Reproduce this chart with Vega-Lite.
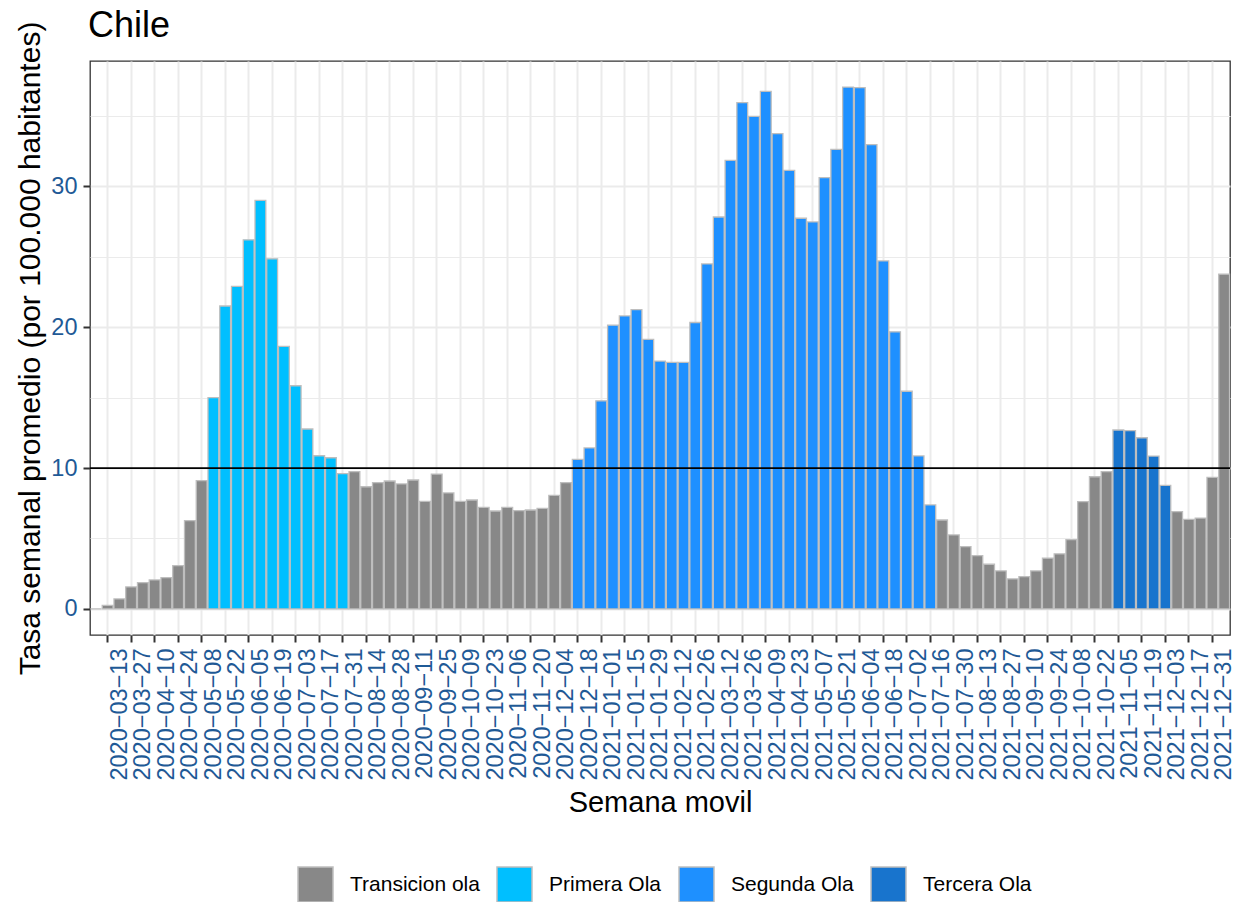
{
  "$schema": "https://vega.github.io/schema/vega-lite/v6.json",
  "width": 1140,
  "height": 574,
  "autosize": {"type": "none"},
  "padding": {"left": 90, "top": 61, "right": 5, "bottom": 267},
  "background": "white",
  "config": {
    "font": "Liberation Sans",
    "view": {"stroke": "#333333", "strokeWidth": 1.3}
  },
  "title": {"text": "Chile", "anchor": "start", "frame": "group", "fontSize": 36, "font": "Liberation Sans", "fontWeight": "normal", "color": "black", "baseline": "bottom", "offset": -60, "dx": -2},
  "layer": [
    {
      "data": {"values": [
        {"semana": "2020-03-06", "tasa": 0, "ola": "Transicion ola"},
        {"semana": "2020-03-13", "tasa": 0.25, "ola": "Transicion ola"},
        {"semana": "2020-03-20", "tasa": 0.71, "ola": "Transicion ola"},
        {"semana": "2020-03-27", "tasa": 1.56, "ola": "Transicion ola"},
        {"semana": "2020-04-03", "tasa": 1.87, "ola": "Transicion ola"},
        {"semana": "2020-04-10", "tasa": 2.06, "ola": "Transicion ola"},
        {"semana": "2020-04-17", "tasa": 2.22, "ola": "Transicion ola"},
        {"semana": "2020-04-24", "tasa": 3.07, "ola": "Transicion ola"},
        {"semana": "2020-05-01", "tasa": 6.26, "ola": "Transicion ola"},
        {"semana": "2020-05-08", "tasa": 9.1, "ola": "Transicion ola"},
        {"semana": "2020-05-15", "tasa": 15.0, "ola": "Primera Ola"},
        {"semana": "2020-05-22", "tasa": 21.5, "ola": "Primera Ola"},
        {"semana": "2020-05-29", "tasa": 22.9, "ola": "Primera Ola"},
        {"semana": "2020-06-05", "tasa": 26.2, "ola": "Primera Ola"},
        {"semana": "2020-06-12", "tasa": 29.0, "ola": "Primera Ola"},
        {"semana": "2020-06-19", "tasa": 24.85, "ola": "Primera Ola"},
        {"semana": "2020-06-26", "tasa": 18.63, "ola": "Primera Ola"},
        {"semana": "2020-07-03", "tasa": 15.84, "ola": "Primera Ola"},
        {"semana": "2020-07-10", "tasa": 12.77, "ola": "Primera Ola"},
        {"semana": "2020-07-17", "tasa": 10.87, "ola": "Primera Ola"},
        {"semana": "2020-07-24", "tasa": 10.73, "ola": "Primera Ola"},
        {"semana": "2020-07-31", "tasa": 9.6, "ola": "Primera Ola"},
        {"semana": "2020-08-07", "tasa": 9.74, "ola": "Transicion ola"},
        {"semana": "2020-08-14", "tasa": 8.67, "ola": "Transicion ola"},
        {"semana": "2020-08-21", "tasa": 8.96, "ola": "Transicion ola"},
        {"semana": "2020-08-28", "tasa": 9.08, "ola": "Transicion ola"},
        {"semana": "2020-09-04", "tasa": 8.87, "ola": "Transicion ola"},
        {"semana": "2020-09-11", "tasa": 9.15, "ola": "Transicion ola"},
        {"semana": "2020-09-18", "tasa": 7.64, "ola": "Transicion ola"},
        {"semana": "2020-09-25", "tasa": 9.57, "ola": "Transicion ola"},
        {"semana": "2020-10-02", "tasa": 8.23, "ola": "Transicion ola"},
        {"semana": "2020-10-09", "tasa": 7.64, "ola": "Transicion ola"},
        {"semana": "2020-10-16", "tasa": 7.73, "ola": "Transicion ola"},
        {"semana": "2020-10-23", "tasa": 7.21, "ola": "Transicion ola"},
        {"semana": "2020-10-30", "tasa": 6.95, "ola": "Transicion ola"},
        {"semana": "2020-11-06", "tasa": 7.21, "ola": "Transicion ola"},
        {"semana": "2020-11-13", "tasa": 6.97, "ola": "Transicion ola"},
        {"semana": "2020-11-20", "tasa": 7.02, "ola": "Transicion ola"},
        {"semana": "2020-11-27", "tasa": 7.14, "ola": "Transicion ola"},
        {"semana": "2020-12-04", "tasa": 8.06, "ola": "Transicion ola"},
        {"semana": "2020-12-11", "tasa": 8.96, "ola": "Transicion ola"},
        {"semana": "2020-12-18", "tasa": 10.62, "ola": "Segunda Ola"},
        {"semana": "2020-12-25", "tasa": 11.43, "ola": "Segunda Ola"},
        {"semana": "2021-01-01", "tasa": 14.77, "ola": "Segunda Ola"},
        {"semana": "2021-01-08", "tasa": 20.14, "ola": "Segunda Ola"},
        {"semana": "2021-01-15", "tasa": 20.8, "ola": "Segunda Ola"},
        {"semana": "2021-01-22", "tasa": 21.25, "ola": "Segunda Ola"},
        {"semana": "2021-01-29", "tasa": 19.13, "ola": "Segunda Ola"},
        {"semana": "2021-02-05", "tasa": 17.59, "ola": "Segunda Ola"},
        {"semana": "2021-02-12", "tasa": 17.5, "ola": "Segunda Ola"},
        {"semana": "2021-02-19", "tasa": 17.5, "ola": "Segunda Ola"},
        {"semana": "2021-02-26", "tasa": 20.33, "ola": "Segunda Ola"},
        {"semana": "2021-03-05", "tasa": 24.49, "ola": "Segunda Ola"},
        {"semana": "2021-03-12", "tasa": 27.82, "ola": "Segunda Ola"},
        {"semana": "2021-03-19", "tasa": 31.84, "ola": "Segunda Ola"},
        {"semana": "2021-03-26", "tasa": 35.94, "ola": "Segunda Ola"},
        {"semana": "2021-04-02", "tasa": 34.96, "ola": "Segunda Ola"},
        {"semana": "2021-04-09", "tasa": 36.74, "ola": "Segunda Ola"},
        {"semana": "2021-04-16", "tasa": 33.74, "ola": "Segunda Ola"},
        {"semana": "2021-04-23", "tasa": 31.13, "ola": "Segunda Ola"},
        {"semana": "2021-04-30", "tasa": 27.73, "ola": "Segunda Ola"},
        {"semana": "2021-05-07", "tasa": 27.47, "ola": "Segunda Ola"},
        {"semana": "2021-05-14", "tasa": 30.62, "ola": "Segunda Ola"},
        {"semana": "2021-05-21", "tasa": 32.62, "ola": "Segunda Ola"},
        {"semana": "2021-05-28", "tasa": 37.04, "ola": "Segunda Ola"},
        {"semana": "2021-06-04", "tasa": 37.0, "ola": "Segunda Ola"},
        {"semana": "2021-06-11", "tasa": 32.96, "ola": "Segunda Ola"},
        {"semana": "2021-06-18", "tasa": 24.7, "ola": "Segunda Ola"},
        {"semana": "2021-06-25", "tasa": 19.67, "ola": "Segunda Ola"},
        {"semana": "2021-07-02", "tasa": 15.45, "ola": "Segunda Ola"},
        {"semana": "2021-07-09", "tasa": 10.86, "ola": "Segunda Ola"},
        {"semana": "2021-07-16", "tasa": 7.38, "ola": "Segunda Ola"},
        {"semana": "2021-07-23", "tasa": 6.31, "ola": "Transicion ola"},
        {"semana": "2021-07-30", "tasa": 5.25, "ola": "Transicion ola"},
        {"semana": "2021-08-06", "tasa": 4.42, "ola": "Transicion ola"},
        {"semana": "2021-08-13", "tasa": 3.78, "ola": "Transicion ola"},
        {"semana": "2021-08-20", "tasa": 3.17, "ola": "Transicion ola"},
        {"semana": "2021-08-27", "tasa": 2.7, "ola": "Transicion ola"},
        {"semana": "2021-09-03", "tasa": 2.13, "ola": "Transicion ola"},
        {"semana": "2021-09-10", "tasa": 2.29, "ola": "Transicion ola"},
        {"semana": "2021-09-17", "tasa": 2.7, "ola": "Transicion ola"},
        {"semana": "2021-09-24", "tasa": 3.6, "ola": "Transicion ola"},
        {"semana": "2021-10-01", "tasa": 3.91, "ola": "Transicion ola"},
        {"semana": "2021-10-08", "tasa": 4.92, "ola": "Transicion ola"},
        {"semana": "2021-10-15", "tasa": 7.61, "ola": "Transicion ola"},
        {"semana": "2021-10-22", "tasa": 9.38, "ola": "Transicion ola"},
        {"semana": "2021-10-29", "tasa": 9.74, "ola": "Transicion ola"},
        {"semana": "2021-11-05", "tasa": 12.7, "ola": "Tercera Ola"},
        {"semana": "2021-11-12", "tasa": 12.65, "ola": "Tercera Ola"},
        {"semana": "2021-11-19", "tasa": 12.15, "ola": "Tercera Ola"},
        {"semana": "2021-11-26", "tasa": 10.85, "ola": "Tercera Ola"},
        {"semana": "2021-12-03", "tasa": 8.77, "ola": "Tercera Ola"},
        {"semana": "2021-12-10", "tasa": 6.9, "ola": "Transicion ola"},
        {"semana": "2021-12-17", "tasa": 6.36, "ola": "Transicion ola"},
        {"semana": "2021-12-24", "tasa": 6.45, "ola": "Transicion ola"},
        {"semana": "2021-12-31", "tasa": 9.34, "ola": "Transicion ola"},
        {"semana": "2022-01-07", "tasa": 23.76, "ola": "Transicion ola"}
      ]},
      "mark": {"type": "bar", "stroke": "#BEBEBE", "strokeWidth": 1.3},
      "encoding": {
        "x": {
          "field": "semana", "type": "ordinal", "sort": null,
          "scale": {"paddingInner": 0.08, "paddingOuter": 0.04},
          "axis": {
            "values": ["2020-03-13","2020-03-27","2020-04-10","2020-04-24","2020-05-08","2020-05-22","2020-06-05","2020-06-19","2020-07-03","2020-07-17","2020-07-31","2020-08-14","2020-08-28","2020-09-11","2020-09-25","2020-10-09","2020-10-23","2020-11-06","2020-11-20","2020-12-04","2020-12-18","2021-01-01","2021-01-15","2021-01-29","2021-02-12","2021-02-26","2021-03-12","2021-03-26","2021-04-09","2021-04-23","2021-05-07","2021-05-21","2021-06-04","2021-06-18","2021-07-02","2021-07-16","2021-07-30","2021-08-13","2021-08-27","2021-09-10","2021-09-24","2021-10-08","2021-10-22","2021-11-05","2021-11-19","2021-12-03","2021-12-17","2021-12-31"],
            "labelExpr": "replace(replace(datum.label, '-', '−'), '-', '−')",
            "bandPosition": 0.5,
            "grid": true, "gridColor": "#EBEBEB", "gridWidth": 2,
            "domain": false,
            "tickColor": "#333333", "tickWidth": 2, "tickSize": 7,
            "labelAngle": 270, "labelAlign": "right", "labelBaseline": "top",
            "labelFontSize": 23.5, "labelColor": "#1F5A96", "labelPadding": 6, "labelOverlap": false,
            "title": "Semana movil", "titleFontSize": 29, "titleFontWeight": "normal", "titleColor": "black", "titlePadding": 8
          }
        },
        "y": {
          "field": "tasa", "type": "quantitative",
          "scale": {"domain": [-1.852, 38.892], "nice": false, "zero": false},
          "axis": {
            "values": [0, 5, 10, 15, 20, 25, 30, 35],
            "labelExpr": "datum.value % 10 === 0 ? datum.label : ''",
            "tickOpacity": {"condition": {"test": "datum.value % 10 === 0", "value": 1}, "value": 0},
            "gridWidth": {"condition": {"test": "datum.value % 10 === 0", "value": 2}, "value": 1},
            "gridColor": "#EBEBEB",
            "domain": false,
            "tickColor": "#333333", "tickWidth": 2, "tickSize": 7,
            "labelFontSize": 23.5, "labelColor": "#1F5A96", "labelPadding": 6,
            "title": "Tasa semanal promedio (por 100.000 habitantes)", "titleFontSize": 30, "titleFontWeight": "normal", "titleColor": "black", "titlePadding": 5
          }
        },
        "fill": {
          "field": "ola", "type": "nominal",
          "scale": {"domain": ["Transicion ola", "Primera Ola", "Segunda Ola", "Tercera Ola"], "range": ["#888888", "#00BFFF", "#1E90FF", "#1874CD"]},
          "legend": {
            "orient": "none", "legendX": 207, "legendY": 805, "direction": "horizontal",
            "title": null, "symbolType": "square", "symbolSize": 1225,
            "symbolStrokeColor": "#BEBEBE", "symbolStrokeWidth": 1.5, "symbolOpacity": 1,
            "labelFontSize": 21, "labelColor": "black", "labelOffset": 16, "columnPadding": 14,
            "padding": 0, "labelLimit": 400
          }
        }
      }
    },
    {
      "data": {"values": [{"umbral": 10}]},
      "mark": {"type": "rule", "color": "black", "strokeWidth": 1.7},
      "encoding": {"y": {"field": "umbral", "type": "quantitative"}}
    }
  ]
}
